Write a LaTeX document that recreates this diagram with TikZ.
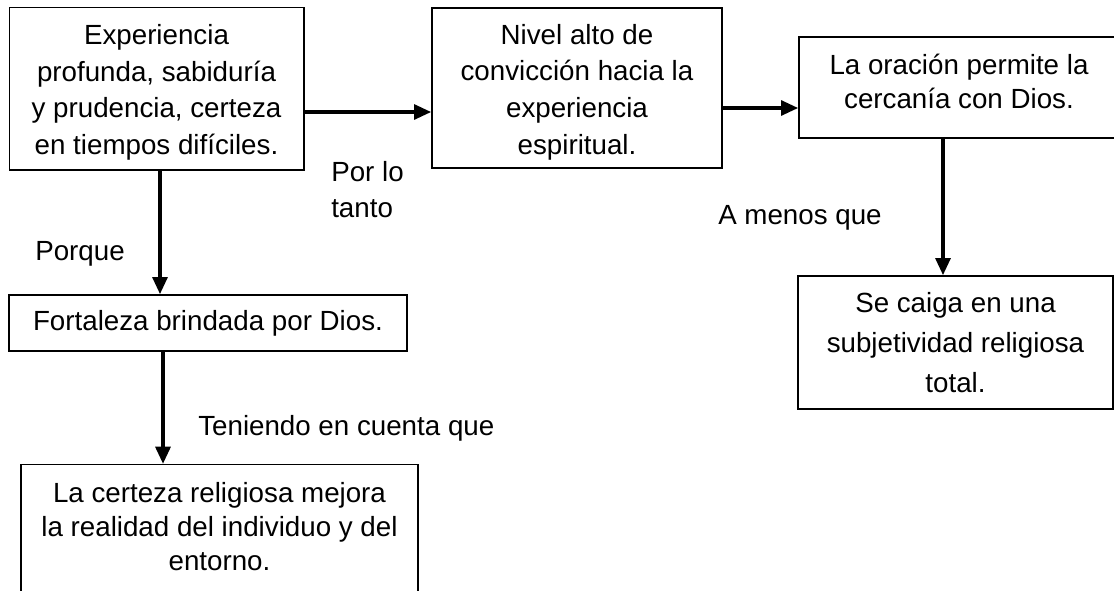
\documentclass[tikz,border=0pt]{standalone}
\usepackage{fontspec}
\setmainfont{Liberation Sans}
\usetikzlibrary{arrows.meta}

\tikzset{box/.style={draw, rectangle, line width=1pt, align=center, inner sep=0pt,
                     font=\fontsize{20.8}{27.5}\selectfont}}
\tikzset{arr/.style={-{Triangle[length=13pt,width=11pt]}, line width=3pt}}
\tikzset{lbl/.style={anchor=west, inner sep=0pt, align=left,
                     font=\fontsize{20.8}{26.5}\selectfont}}

\begin{document}
\begin{tikzpicture}[x=0.75pt,y=-0.75pt]
  \clip (0,0) rectangle (1114,590);
  \node at (156.5,88.5) (exp) [box, minimum width=221pt, minimum height=122pt]
    {\rule{0pt}{21pt}Experiencia\\profunda, sabidur\'ia\\y prudencia, certeza\\en tiempos dif\'iciles.};
  \node at (577,88) (niv) [box, minimum width=217.5pt, minimum height=120pt]
    {\rule{0pt}{21pt}Nivel alto de\\convicci\'on hacia la\\experiencia\\espiritual.};
  \node at (959,87.5) (ora) [box, minimum width=240pt, minimum height=75.75pt,
    font=\fontsize{20.8}{25.5}\selectfont]
    {La oraci\'on permite la\\cercan\'ia con Dios.\rule[-9pt]{0pt}{1pt}};
  \node at (208,323) (fort) [box, minimum width=298.5pt, minimum height=42pt]
    {Fortaleza brindada por Dios.};
  \node at (955.5,342.5) (caiga) [box, minimum width=236.25pt, minimum height=99.75pt,
    font=\fontsize{20.8}{30}\selectfont]
    {Se caiga en una\\subjetividad religiosa\\total.};
  \node at (219.5,464) (cert) [box, anchor=north, minimum width=297.75pt,
    inner ysep=13pt, text depth=30pt, font=\fontsize{20.8}{25.5}\selectfont]
    {La certeza religiosa mejora\\la realidad del individuo y del\\entorno.};

  \draw[arr] (exp.east |- 0,112) -- (niv.west |- 0,112);
  \draw[arr] (niv.east |- 0,108) -- (ora.west |- 0,108);
  \draw[arr] (exp.south -| 160,0) -- (fort.north -| 160,0);
  \draw[arr] (fort.south -| 163,0) -- (cert.north -| 163,0);
  \draw[arr] (ora.south -| 943,0) -- (caiga.north -| 943,0);

  \node at (331,189.5) (portanto) [lbl] {Por lo\\tanto};
  \node at (35,253.5) (porque) [lbl] {Porque};
  \node at (198,428) (teniendo) [lbl] {Teniendo en cuenta que};
  \node at (718,218) (amenos) [lbl] {A menos que};
\end{tikzpicture}
\end{document}
